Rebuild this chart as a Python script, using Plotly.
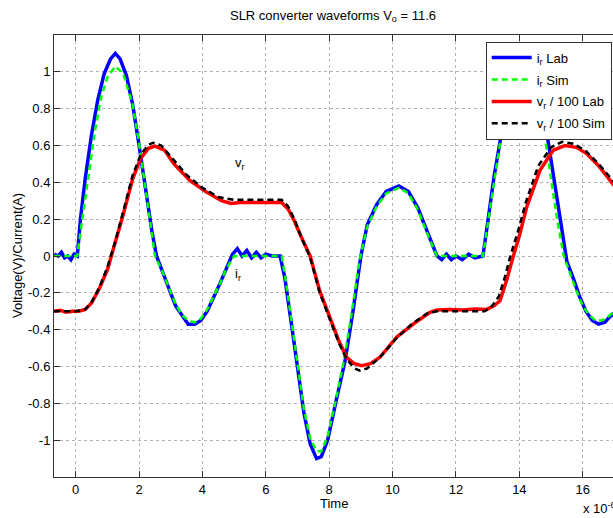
import plotly.graph_objects as go

# ---- data (time in microseconds) ----
t_ir_lab = [-0.68,-0.55,-0.45,-0.35,-0.25,-0.15,-0.05,0.05,0.15,0.3,0.5,0.7,0.9,1.1,1.25,1.4,1.6,1.8,2.0,2.2,2.4,2.55,
            2.75,2.95,3.15,3.35,3.55,3.75,3.95,4.15,4.35,4.55,4.75,4.95,5.1,5.25,5.4,5.55,5.7,5.85,6.0,6.2,6.45,
            6.6,6.8,7.0,7.2,7.4,7.6,7.75,7.95,8.2,8.5,8.75,9.0,9.2,9.5,9.8,10.2,10.5,10.8,11.1,11.4,11.55,11.7,
            11.85,12.0,12.2,12.4,12.6,12.85,13.0,13.2,13.45,13.7,13.95,14.1,14.35,14.6,14.9,15.1,15.3,15.5,15.7,
            15.9,16.1,16.3,16.5,16.7,16.85,17.0]
ir_lab = [0.01,0.0,0.02,-0.01,0.0,-0.02,0.01,0.0,0.2,0.42,0.66,0.85,0.99,1.07,1.1,1.07,0.98,0.82,0.6,0.37,0.14,0.0,
          -0.09,-0.19,-0.27,-0.32,-0.37,-0.37,-0.35,-0.3,-0.23,-0.15,-0.07,0.01,0.04,0.0,0.03,-0.01,0.02,-0.01,0.01,0.0,0.0,
          -0.12,-0.36,-0.62,-0.85,-1.02,-1.1,-1.09,-1.0,-0.8,-0.57,-0.3,0.0,0.17,0.28,0.35,0.38,0.35,0.26,0.13,0.0,-0.02,0.01,
          -0.02,0.0,-0.02,0.01,-0.01,0.0,0.18,0.43,0.68,0.9,1.05,1.09,1.05,0.9,0.63,0.4,0.17,-0.03,-0.12,
          -0.22,-0.3,-0.35,-0.37,-0.36,-0.33,-0.31]

t_ir_sim = [-0.68,0.05,0.2,0.4,0.6,0.8,1.0,1.25,1.5,1.8,2.0,2.2,2.35,2.5,2.75,2.95,3.15,3.35,3.55,3.75,3.95,4.15,4.35,
            4.55,4.75,5.0,6.5,6.6,6.8,7.0,7.2,7.4,7.6,7.75,7.95,8.2,8.45,8.7,8.95,9.2,9.5,9.8,10.2,10.5,10.8,11.1,11.4,
            12.85,13.0,13.2,13.45,13.7,13.95,14.1,14.3,14.55,14.8,15.0,15.2,15.4,15.6,15.8,16.0,16.2,16.4,16.6,16.8,17.0]
ir_sim = [0.0,0.0,0.19,0.44,0.67,0.86,0.97,1.03,0.99,0.82,0.61,0.37,0.18,0.0,-0.09,-0.18,-0.26,-0.32,-0.35,-0.36,-0.34,-0.29,-0.22,
          -0.15,-0.07,0.0,0.0,-0.1,-0.34,-0.6,-0.83,-0.99,-1.06,-1.06,-0.98,-0.79,-0.58,-0.32,-0.03,0.16,0.27,0.34,0.37,0.34,0.25,0.12,0.0,
          0.0,0.17,0.42,0.68,0.88,1.0,1.03,1.01,0.88,0.65,0.42,0.19,0.0,-0.1,-0.19,-0.27,-0.32,-0.35,-0.35,-0.33,-0.3]

t_vr_lab = [-0.68,-0.5,-0.3,-0.1,0.1,0.3,0.5,0.75,1.0,1.25,1.5,1.8,2.05,2.3,2.5,2.8,3.1,3.6,4.1,4.6,4.9,5.2,5.6,6.0,6.5,
            6.7,6.9,7.1,7.4,7.7,8.0,8.3,8.55,8.8,9.02,9.3,9.6,10.13,10.65,11.18,11.4,11.8,12.2,12.6,12.97,13.2,13.39,
            13.6,13.8,14.0,14.23,14.65,15.07,15.44,15.8,16.12,16.5,16.9,17.0]
vr_lab = [-0.3,-0.295,-0.305,-0.3,-0.3,-0.29,-0.255,-0.175,-0.075,0.07,0.225,0.42,0.53,0.585,0.597,0.575,0.5,0.41,0.35,0.3,0.285,0.29,0.29,0.293,0.29,
          0.255,0.19,0.11,0.0,-0.19,-0.33,-0.46,-0.55,-0.585,-0.596,-0.585,-0.55,-0.44,-0.37,-0.306,-0.293,-0.29,-0.293,-0.288,-0.29,-0.27,-0.243,
          -0.13,-0.006,0.11,0.265,0.465,0.574,0.6,0.59,0.556,0.49,0.4,0.38]

t_vr_sim = [-0.68,0.0,0.3,0.5,0.75,1.0,1.25,1.5,1.8,2.05,2.3,2.45,2.7,3.0,3.5,4.0,4.5,5.0,6.5,6.7,6.9,7.1,7.4,7.7,8.0,8.3,
            8.55,8.8,8.97,9.2,9.6,10.1,10.6,11.1,11.4,12.9,13.1,13.35,13.55,13.7,14.0,14.2,14.6,15.0,15.35,15.7,16.1,16.5,17.0]
vr_sim = [-0.3,-0.3,-0.29,-0.25,-0.17,-0.06,0.08,0.24,0.44,0.55,0.605,0.615,0.6,0.54,0.44,0.37,0.32,0.305,0.305,0.27,0.2,0.11,-0.01,-0.2,-0.34,-0.47,
          -0.56,-0.61,-0.623,-0.61,-0.55,-0.45,-0.37,-0.31,-0.3,-0.3,-0.28,-0.22,-0.11,-0.01,0.16,0.29,0.49,0.59,0.62,0.61,0.57,0.5,0.40]

x_ticks = [0, 2, 4, 6, 8, 10, 12, 14, 16]
x_tick_labels = ["0", "2", "4", "6", "8", "10", "12", "14", "16"]
y_ticks = [-1, -0.8, -0.6, -0.4, -0.2, 0, 0.2, 0.4, 0.6, 0.8, 1]
y_tick_labels = ["-1", "-0.8", "-0.6", "-0.4", "-0.2", "0", "0.2", "0.4", "0.6", "0.8", "1"]

FONT = "Liberation Sans, Arial, sans-serif"
fig = go.Figure()
fig.add_trace(go.Scatter(x=t_ir_lab, y=ir_lab, mode="lines", name="i<sub>r</sub> Lab", legendgroup="a",
                         line=dict(color="#0000ff", width=3.5)))
fig.add_trace(go.Scatter(x=t_ir_sim, y=ir_sim, mode="lines", name="i<sub>r</sub> Sim", legendgroup="b",
                         line=dict(color="#00ff00", width=2.5, dash="6px,4px")))
fig.add_trace(go.Scatter(x=t_vr_lab, y=vr_lab, mode="lines", name="v<sub>r</sub> / 100 Lab", legendgroup="c",
                         line=dict(color="#ff0000", width=3.5)))
fig.add_trace(go.Scatter(x=t_vr_sim, y=vr_sim, mode="lines", name="v<sub>r</sub> / 100 Sim", legendgroup="d",
                         line=dict(color="#000000", width=2.5, dash="6px,4px")))

axis_common = dict(showline=True, linecolor="#333333", linewidth=1, ticks="inside", ticklen=6,
                   tickcolor="#333333", showgrid=True, gridcolor="#b4b4b4", griddash="dot", gridwidth=1,
                   zeroline=False, tickfont=dict(family=FONT, size=13, color="#000000"))

fig.update_xaxes(range=[-0.685, 16.955], tickvals=x_ticks, ticktext=x_tick_labels, mirror="ticks", **axis_common)
fig.update_yaxes(range=[-1.2, 1.2], tickvals=y_ticks, ticktext=y_tick_labels, mirror=False, **axis_common)

fig.update_layout(
    width=613, height=518,
    margin=dict(l=54, r=0, t=35, b=41),
    paper_bgcolor="white", plot_bgcolor="white",
    font=dict(family=FONT, size=13, color="#000000"),
    title=dict(text="SLR converter waveforms V<sub>o</sub> = 11.6", x=333/613, xanchor="center",
               y=1 - 15/518, yanchor="middle", font=dict(family=FONT, size=13)),
    showlegend=True,
    legend=dict(x=(485.7 - 54) / 559, xanchor="left", y=0.985, yanchor="top", bgcolor="white",
                bordercolor="#333333", borderwidth=1, font=dict(family=FONT, size=13),
                itemwidth=40, tracegroupgap=2),
    annotations=[
        dict(text="Time", xref="paper", yref="paper", x=0.5, y=-0.0595, showarrow=False,
             xanchor="center", yanchor="middle", font=dict(family=FONT, size=13)),
        dict(text="Voltage(V)/Current(A)", xref="paper", yref="paper", x=-(54 - 17) / 559, y=0.5,
             textangle=-90, showarrow=False, xanchor="center", yanchor="middle", font=dict(family=FONT, size=13)),
        dict(text="x 10<sup>-6</sup>", xref="paper", yref="paper", x=(581 - 54) / 559, y=(476.7 - 508) / 441.7,
             showarrow=False, xanchor="left", yanchor="middle", font=dict(family=FONT, size=13)),
        dict(text="v<sub>r</sub>", x=5.19, y=0.50, xref="x", yref="y", showarrow=False,
             font=dict(family=FONT, size=13)),
        dict(text="i<sub>r</sub>", x=5.12, y=-0.10, xref="x", yref="y", showarrow=False,
             font=dict(family=FONT, size=13)),
    ],
)

fig.write_html("out.html", config={"displayModeBar": False},
               post_script="document.body.style.margin='0px';")
